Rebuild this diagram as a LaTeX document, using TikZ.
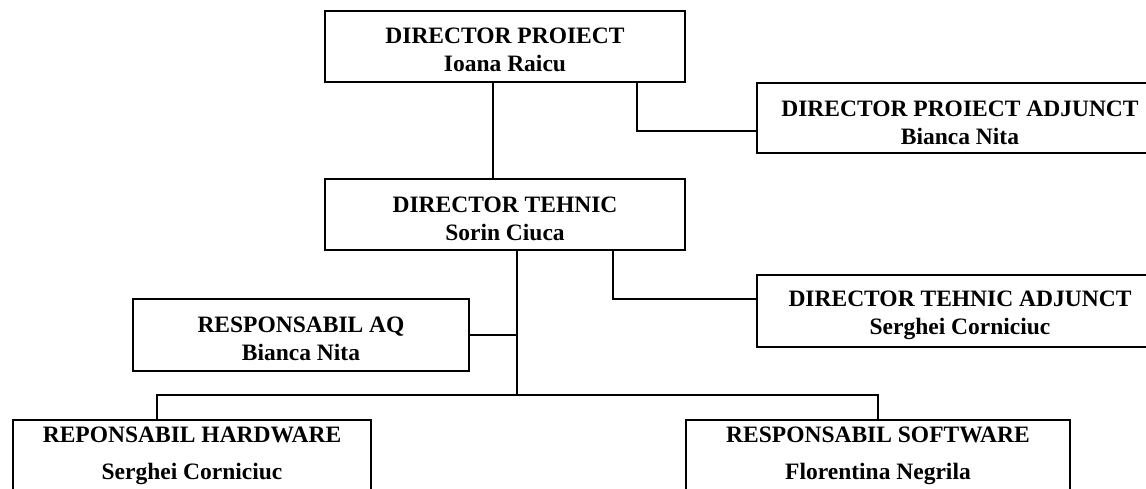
\documentclass[tikz,border=0pt]{standalone}
\usepackage{fontspec}
\setmainfont{Liberation Serif}
\begin{document}
\begin{tikzpicture}[x=1pt,y=-1pt,
  box/.style={draw,line width=1.8pt,inner sep=0pt},
  txt/.style={inner sep=0pt,align=center,
    font=\fontsize{23.5}{28}\selectfont\bfseries},
  txtb/.style={inner sep=0pt,align=center,anchor=north,
    font=\fontsize{23.5}{37}\selectfont\bfseries},
  conn/.style={line width=1.8pt}]
\useasboundingbox (0,0) rectangle (1146,489);
\clip (0,0) rectangle (1146,489);
% boxes
\node[box,minimum width=360pt,minimum height=71pt] (dp) at (505,46.5) {};
\node[txt] (dpt) at ([yshift=-3.5pt]dp.center) {DIRECTOR PROIECT\\Ioana Raicu};
\node[box,minimum width=406pt,minimum height=70pt] (dpa) at (960,118) {};
\node[txt] (dpat) at ([yshift=-4.5pt]dpa.center) {DIRECTOR PROIECT ADJUNCT\\Bianca Nita};
\node[box,minimum width=360pt,minimum height=71pt] (dt) at (505,214.5) {};
\node[txt] (dtt) at ([yshift=-4pt]dt.center) {DIRECTOR TEHNIC\\Sorin Ciuca};
\node[box,minimum width=406pt,minimum height=72pt] (dta) at (960,311) {};
\node[txt] (dtat) at ([yshift=-4.5pt]dta.center) {DIRECTOR TEHNIC ADJUNCT\\Serghei Corniciuc};
\node[box,minimum width=336pt,minimum height=72pt] (aq) at (301,335) {};
\node[txt] (aqt) at ([yshift=-4pt]aq.center) {RESPONSABIL AQ\\Bianca Nita};
\node[box,minimum width=358pt,minimum height=120pt,anchor=north] (hw) at (192,419) {};
\node[box,minimum width=384pt,minimum height=120pt,anchor=north] (sw) at (878,419) {};
\node[txtb] (hwt) at (192,427) {REPONSABIL HARDWARE\\Serghei Corniciuc};
\node[txtb] (swt) at (878,427) {RESPONSABIL SOFTWARE\\Florentina Negrila};
% junction coordinates
\coordinate (x1) at (493,0);
\coordinate (x2) at (637,131);
\coordinate (x3) at (613,299);
\coordinate (x4) at (517,395);
\coordinate (x5) at (157,0);
% connectors
\draw[conn] (dp.south -| x1) -- (dt.north -| x1);
\draw[conn] (dp.south -| x2) |- (dpa.west |- x2);
\draw[conn] (dt.south -| x3) |- (dta.west |- x3);
\draw[conn] (dt.south -| x4) -- (x4);
\draw[conn] (aq.east) -| (x4);
\draw[conn] (hw.north -| x5) |- (x4) -| (sw.north);
\end{tikzpicture}
\end{document}
